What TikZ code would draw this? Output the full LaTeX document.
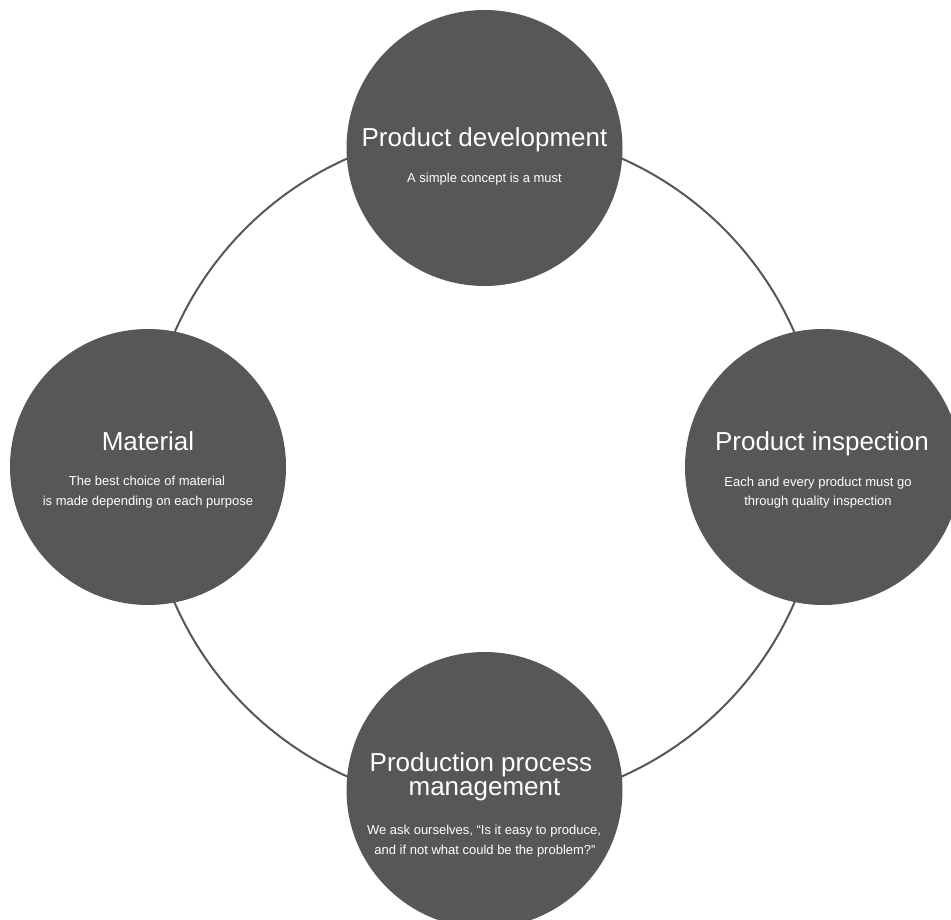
\documentclass[tikz,border=0pt]{standalone}
\usepackage{fontspec}
\setmainfont{Liberation Sans}
\definecolor{discgray}{RGB}{88,86,87}
\begin{document}
\begin{tikzpicture}[x=1pt,y=-1pt,
  disc/.style={circle, fill=discgray, minimum size=276pt, inner sep=0pt},
  ringstyle/.style={circle, draw=discgray, line width=2pt, minimum size=676pt, inner sep=0pt},
  ttl/.style={text=white, font=\fontsize{26}{26}\selectfont, anchor=base, inner sep=0pt},
  sub/.style={text=white, font=\fontsize{13}{13}\selectfont, anchor=base, inner sep=0pt}]
\useasboundingbox (0,0) rectangle (951,920);
\node[ringstyle] (ring) at (484.5,467.5) {};
\node[disc] (top) at (484.5,148) {};
\node[disc] (left) at (148,467) {};
\node[disc] (right) at (823,467) {};
\node[disc] (bottom) at (484.5,790) {};
% top
\node[ttl] (t1) at (484.5,146.5) {Product development};
\node[sub] (s1) at (484.5,182.5) {A simple concept is a must};
% left
\node[ttl] (t2) at (148,450) {Material};
\node[sub] (s2a) at (147,485.5) {The best choice of material};
\node[sub] (s2b) at (148,505.5) {is made depending on each purpose};
% right
\node[ttl] (t3) at (822,450) {Product inspection};
\node[sub] (s3a) at (818,486.5) {Each and every product must go};
\node[sub] (s3b) at (818,505.5) {through quality inspection};
% bottom
\node[ttl] (t4a) at (481,771.5) {Production process};
\node[ttl] (t4b) at (484.5,795) {management};
\node[sub] (s4a) at (484,834) {We ask ourselves, “Is it easy to produce,};
\node[sub] (s4b) at (485,854) {and if not what could be the problem?”};
\end{tikzpicture}
\end{document}
